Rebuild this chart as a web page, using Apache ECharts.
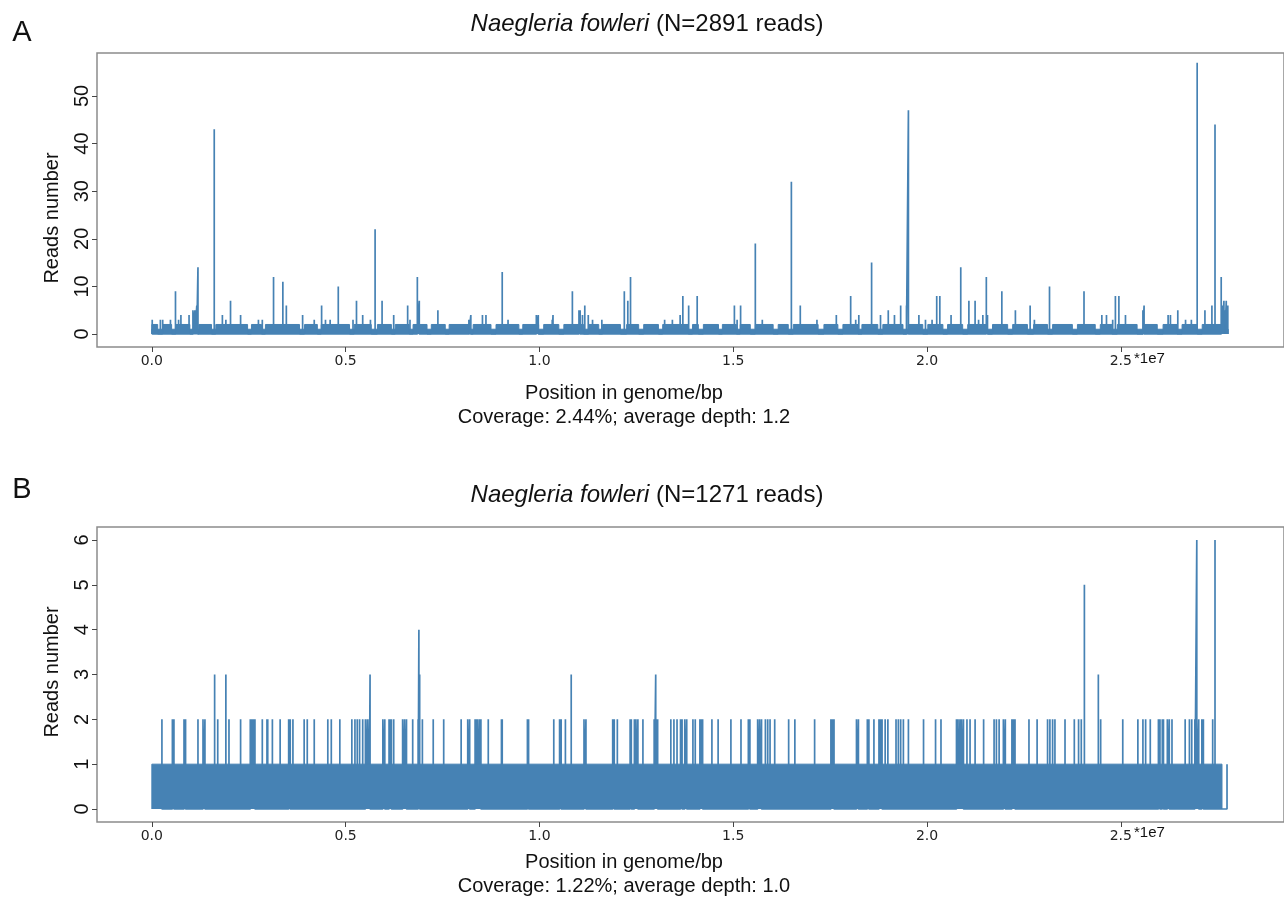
<!DOCTYPE html>
<html>
<head>
<meta charset="utf-8">
<script src="https://cdn.jsdelivr.net/npm/echarts@6/dist/echarts.min.js"></script>
<style>
  html, body { margin: 0; padding: 0; background: #fff; }
  #chart { width: 1284px; height: 907px; }
</style>
</head>
<body>
<div id="chart"></div>
<script>
// all positions are in units of 1e7 bp (as on the axis)
const xTicks = [0, 0.5, 1, 1.5, 2, 2.5]
const yTicksA = [0, 10, 20, 30, 40, 50]
const yTicksB = [0, 1, 2, 3, 4, 5, 6]

// panel A: read depth peaks above the 0-2 band, [position, reads]
const peaksA = [
  [0.001, 3], [0.022, 3], [0.028, 3], [0.048, 3], [0.061, 9], [0.069, 3], [0.075, 4], [0.096, 4],
  [0.106, 5], [0.111, 5], [0.116, 6], [0.119, 14], [0.161, 43], [0.182, 4], [0.191, 3], [0.203, 7],
  [0.229, 4], [0.275, 3], [0.285, 3], [0.314, 12], [0.338, 11], [0.347, 6], [0.389, 4], [0.419, 3],
  [0.438, 6], [0.448, 3], [0.460, 3], [0.481, 10], [0.519, 3], [0.528, 7], [0.544, 4], [0.564, 3],
  [0.576, 22], [0.594, 7], [0.624, 4], [0.660, 6], [0.666, 3], [0.685, 12], [0.690, 7], [0.738, 5],
  [0.818, 3], [0.823, 4], [0.853, 4], [0.862, 4], [0.904, 13], [0.919, 3], [0.992, 4], [0.997, 4],
  [1.033, 3], [1.035, 4], [1.085, 9], [1.102, 5], [1.105, 5], [1.111, 4], [1.117, 6], [1.126, 4],
  [1.137, 3], [1.161, 3], [1.219, 9], [1.228, 7], [1.235, 12], [1.323, 3], [1.343, 3], [1.363, 4],
  [1.370, 8], [1.385, 6], [1.407, 8], [1.503, 6], [1.510, 3], [1.519, 6], [1.557, 19], [1.575, 3],
  [1.650, 32], [1.673, 6], [1.716, 3], [1.766, 4], [1.803, 8], [1.816, 3], [1.824, 4], [1.857, 15],
  [1.880, 4], [1.900, 5], [1.916, 4], [1.932, 6], [1.947, 6], [1.952, 47], [1.979, 4], [1.996, 3],
  [2.013, 3], [2.025, 8], [2.033, 8], [2.062, 4], [2.087, 14], [2.108, 7], [2.124, 7], [2.133, 3],
  [2.144, 4], [2.153, 12], [2.156, 4], [2.193, 9], [2.228, 5], [2.266, 6], [2.277, 3], [2.316, 10],
  [2.405, 9], [2.451, 4], [2.463, 4], [2.479, 3], [2.486, 8], [2.495, 8], [2.512, 4], [2.557, 5],
  [2.560, 6], [2.622, 4], [2.628, 4], [2.647, 5], [2.667, 3], [2.682, 3], [2.697, 57], [2.717, 5],
  [2.735, 6], [2.743, 44], [2.759, 12], [2.762, 6], [2.766, 7], [2.769, 5], [2.772, 7], [2.776, 6]
]
// panel A: stretches where depth is 2, [start, end]
const depth2RunsA = [
  [0.000, 0.015], [0.028, 0.051], [0.062, 0.098], [0.121, 0.154], [0.165, 0.247], [0.257, 0.283],
  [0.293, 0.381], [0.394, 0.427], [0.437, 0.510], [0.522, 0.566], [0.582, 0.618], [0.628, 0.664],
  [0.674, 0.710], [0.721, 0.757], [0.767, 0.818], [0.829, 0.875], [0.888, 0.947], [0.957, 0.998],
  [1.011, 1.050], [1.063, 1.114], [1.127, 1.153], [1.163, 1.209], [1.225, 1.256], [1.269, 1.307],
  [1.318, 1.384], [1.395, 1.410], [1.423, 1.462], [1.472, 1.508], [1.518, 1.544], [1.557, 1.603],
  [1.616, 1.642], [1.655, 1.719], [1.734, 1.770], [1.783, 1.822], [1.832, 1.873], [1.886, 1.938],
  [1.951, 1.989], [2.002, 2.041], [2.053, 2.092], [2.105, 2.156], [2.169, 2.208], [2.221, 2.259],
  [2.275, 2.311], [2.324, 2.375], [2.388, 2.434], [2.447, 2.477], [2.491, 2.542], [2.558, 2.594],
  [2.609, 2.645], [2.658, 2.697], [2.710, 2.769]
]
const coveredEndA = 2.777

// panel B: sites with 2 reads
const twoReadSitesB = [
  0.026, 0.053, 0.057, 0.083, 0.087, 0.119, 0.132, 0.137, 0.170, 0.199, 0.229, 0.254, 0.258, 0.262,
  0.266, 0.285, 0.297, 0.299, 0.311, 0.331, 0.353, 0.357, 0.364, 0.393, 0.401, 0.419, 0.454, 0.463,
  0.485, 0.516, 0.524, 0.530, 0.536, 0.544, 0.551, 0.556, 0.561, 0.596, 0.601, 0.612, 0.615, 0.618,
  0.624, 0.647, 0.652, 0.657, 0.673, 0.687, 0.698, 0.726, 0.753, 0.798, 0.815, 0.820, 0.834, 0.837,
  0.841, 0.846, 0.849, 0.868, 0.902, 0.904, 0.969, 0.972, 1.037, 1.052, 1.056, 1.067, 1.115, 1.120,
  1.189, 1.193, 1.201, 1.234, 1.237, 1.245, 1.249, 1.254, 1.267, 1.296, 1.303, 1.305, 1.339, 1.347,
  1.355, 1.364, 1.368, 1.375, 1.380, 1.396, 1.402, 1.414, 1.418, 1.421, 1.445, 1.461, 1.494, 1.520,
  1.539, 1.543, 1.563, 1.568, 1.573, 1.583, 1.589, 1.595, 1.607, 1.643, 1.659, 1.710, 1.752, 1.756,
  1.760, 1.818, 1.823, 1.846, 1.850, 1.863, 1.876, 1.880, 1.884, 1.892, 1.899, 1.920, 1.926, 1.932,
  1.939, 1.952, 1.991, 2.022, 2.036, 2.076, 2.080, 2.085, 2.089, 2.094, 2.103, 2.111, 2.124, 2.146,
  2.173, 2.179, 2.186, 2.197, 2.202, 2.219, 2.223, 2.227, 2.263, 2.284, 2.311, 2.317, 2.324, 2.330,
  2.356, 2.380, 2.391, 2.398, 2.448, 2.505, 2.544, 2.557, 2.564, 2.576, 2.597, 2.601, 2.607, 2.610,
  2.620, 2.625, 2.632, 2.666, 2.677, 2.683, 2.691, 2.701, 2.709, 2.713, 2.737
]
// panel B: sites with 3+ reads, [position, reads]
const highSitesB = [
  [0.162, 3], [0.191, 3], [0.563, 3], [0.689, 4], [0.691, 3], [1.082, 3], [1.300, 3],
  [2.406, 5], [2.442, 3], [2.696, 6], [2.743, 6], [2.774, 1]
]
const coveredEndB = 2.761

const blue = '#4682b4'

// vertical stroke per site: 0 -> depth -> 0
function spikePath(sites) {
  const sorted = [...sites].sort((a, b) => a[0] - b[0])
  const out = []
  sorted.forEach(([p, h]) => { out.push([p, 0], [p, h], [p, 0]) })
  return out
}

function runPath(runs, level) {
  const out = []
  runs.forEach(([s, e]) => { out.push([s, 0], [s, level], [e, level], [e, 0]) })
  return out
}

const baseA = [[0, 0], [0, 1], [coveredEndA, 1], [coveredEndA, 0]]
const baseB = [[0, 0], [0, 1], [coveredEndB, 1], [coveredEndB, 0]]
const sitesB = twoReadSitesB.map(p => [p, 2]).concat(highSitesB)

const chart = echarts.init(document.getElementById('chart'))

const xAxisBase = (gridIndex) => ({
  gridIndex,
  type: 'value',
  position: 'bottom',
  min: -0.1415,
  max: 2.921,
  axisLine: { show: false, onZero: false },
  splitLine: { show: false },
  axisTick: { show: true, customValues: xTicks, length: 5, lineStyle: { color: '#444', width: 1 } },
  axisLabel: {
    customValues: xTicks,
    formatter: v => v.toFixed(1),
    fontFamily: 'DejaVu Sans',
    fontSize: 14,
    color: '#222',
    margin: 7
  }
})

const yAxisBase = (gridIndex, min, max, ticks) => ({
  gridIndex,
  type: 'value',
  position: 'left',
  min,
  max,
  axisLine: { show: false, onZero: false },
  splitLine: { show: false },
  axisTick: { show: true, customValues: ticks, length: 5, lineStyle: { color: '#444', width: 1 } },
  axisLabel: {
    customValues: ticks,
    rotate: 90,
    fontFamily: 'Liberation Sans',
    fontSize: 20,
    color: '#111',
    margin: 5
  }
})

const fillSeries = (idx, data) => ({
  type: 'line',
  xAxisIndex: idx,
  yAxisIndex: idx,
  data,
  symbol: 'none',
  lineStyle: { color: blue, width: 1 },
  areaStyle: { color: blue, opacity: 1 },
  z: 3
})

const lineSeries = (idx, data) => ({
  type: 'line',
  xAxisIndex: idx,
  yAxisIndex: idx,
  data,
  symbol: 'none',
  lineStyle: { color: blue, width: 1.7, join: 'bevel' },
  z: 2
})

const txt = (x, y, text, size, extra) => ({
  type: 'text',
  x, y,
  style: Object.assign({
    text,
    font: size + 'px "Liberation Sans", Arial, sans-serif',
    fill: '#111',
    align: 'center',
    verticalAlign: 'middle'
  }, extra || {})
})

const titleRich = { i: { fontStyle: 'italic', fontSize: 24, fontFamily: 'Liberation Sans', fill: '#111' } }

chart.setOption({
  animation: false,
  grid: [
    { left: 97, top: 53, width: 1192, height: 294, show: true, borderColor: '#8c8c8c', borderWidth: 1.5 },
    { left: 97, top: 527, width: 1192, height: 295, show: true, borderColor: '#8c8c8c', borderWidth: 1.5 }
  ],
  xAxis: [xAxisBase(0), xAxisBase(1)],
  yAxis: [
    yAxisBase(0, -2.73, 59.03, yTicksA),
    yAxisBase(1, -0.29, 6.29, yTicksB)
  ],
  series: [
    fillSeries(0, baseA),
    fillSeries(0, runPath(depth2RunsA, 2)),
    lineSeries(0, spikePath(peaksA)),
    fillSeries(1, baseB),
    lineSeries(1, spikePath(sitesB))
  ],
  graphic: [
    txt(22, 33, 'A', 29),
    txt(22, 490, 'B', 29),
    txt(647, 24, '{i|Naegleria fowleri} (N=2891 reads)', 24, { rich: titleRich }),
    txt(647, 495, '{i|Naegleria fowleri} (N=1271 reads)', 24, { rich: titleRich }),
    Object.assign(txt(52, 218, 'Reads number', 20), { rotation: Math.PI / 2 }),
    Object.assign(txt(52, 672, 'Reads number', 20), { rotation: Math.PI / 2 }),
    txt(624, 393, 'Position in genome/bp', 20),
    txt(624, 417, 'Coverage: 2.44%; average depth: 1.2', 20),
    txt(624, 862, 'Position in genome/bp', 20),
    txt(624, 886, 'Coverage: 1.22%; average depth: 1.0', 20),
    txt(1134, 359, '*1e7', 15, { align: 'left' }),
    txt(1134, 833, '*1e7', 15, { align: 'left' })
  ]
})
</script>
</body>
</html>
